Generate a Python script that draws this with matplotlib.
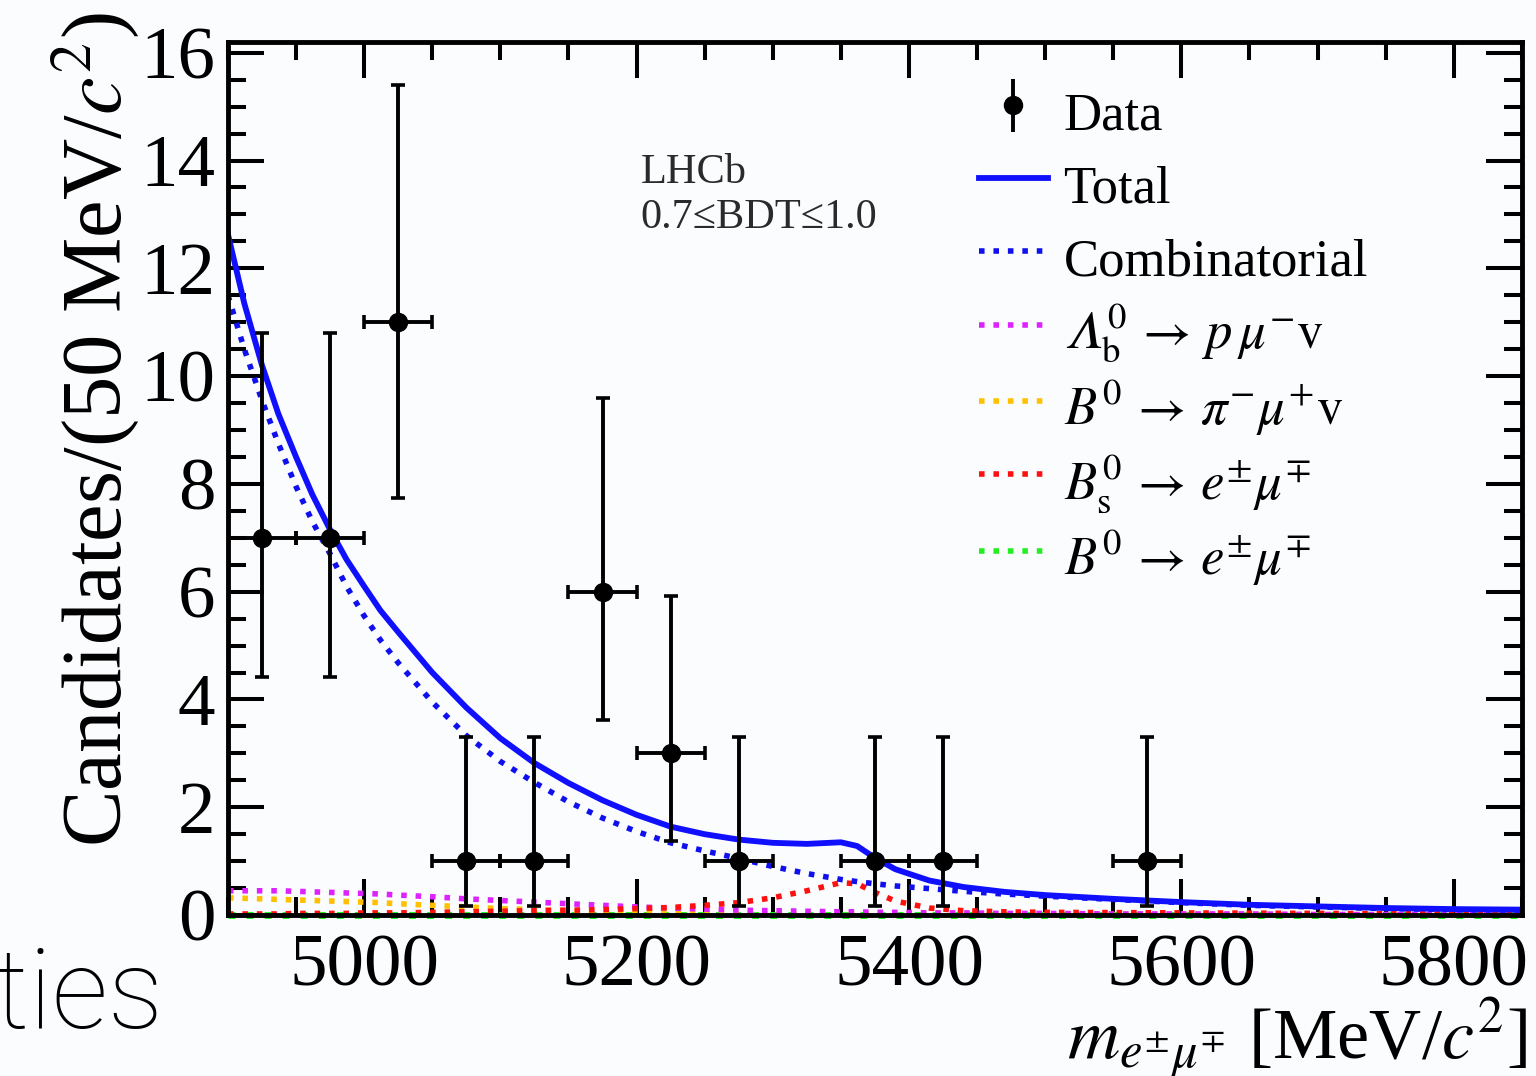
import numpy as np
import matplotlib
matplotlib.use("Agg")
import matplotlib.pyplot as plt
from matplotlib.ticker import MultipleLocator

# data points (bin centres, 50 MeV bins) with Poisson intervals
centers = [4925, 4975, 5025, 5075, 5125, 5175, 5225, 5275, 5375, 5425, 5575]
counts = [7, 7, 11, 1, 1, 6, 3, 1, 1, 1, 1]
err_low = [4.42, 4.42, 7.74, 0.17, 0.17, 3.62, 1.37, 0.17, 0.17, 0.17, 0.17]
err_high = [10.8, 10.8, 15.4, 3.3, 3.3, 9.6, 5.92, 3.3, 3.3, 3.3, 3.3]
half_bin = 25

# fit curves
mass = [4900, 4912, 4925, 4937, 4950, 4962, 4975, 4987, 5000, 5012, 5025,
        5050, 5075, 5100, 5125, 5150, 5175, 5200, 5225, 5250, 5275, 5300,
        5325, 5350, 5362, 5375, 5390, 5415, 5440, 5470, 5500, 5550, 5600,
        5650, 5700, 5750, 5800, 5850]
total = [12.63, 11.35, 10.2, 9.3, 8.5, 7.8, 7.15, 6.6, 6.1, 5.65, 5.25,
         4.5, 3.85, 3.28, 2.82, 2.45, 2.13, 1.86, 1.64, 1.5, 1.4, 1.34,
         1.32, 1.35, 1.28, 1.06, 0.85, 0.64, 0.52, 0.43, 0.37, 0.3, 0.24,
         0.19, 0.16, 0.13, 0.11, 0.1]
combinatorial = [11.5, 10.5, 9.55, 8.75, 7.95, 7.3, 6.7, 6.1, 5.55, 5.1, 4.68,
                 3.95, 3.33, 2.85, 2.46, 2.1, 1.8, 1.55, 1.34, 1.19, 1.05, 0.9,
                 0.77, 0.66, 0.62, 0.58, 0.54, 0.49, 0.44, 0.39, 0.35, 0.29, 0.23,
                 0.18, 0.15, 0.12, 0.1, 0.09]
lambdab = [0.45, 0.45, 0.45, 0.45, 0.44, 0.43, 0.42, 0.41, 0.4, 0.39, 0.37,
           0.34, 0.3, 0.27, 0.24, 0.21, 0.18, 0.15, 0.13, 0.11, 0.09, 0.08,
           0.07, 0.06, 0.06, 0.05, 0.05, 0.04, 0.04, 0.03, 0.03, 0.02, 0.02,
           0.02, 0.01, 0.01, 0.01, 0.01]
b0pimunu = [0.32, 0.31, 0.3, 0.29, 0.28, 0.27, 0.26, 0.25, 0.24, 0.23, 0.21,
            0.18, 0.15, 0.12, 0.1, 0.08, 0.065, 0.05, 0.04, 0.035, 0.03, 0.025,
            0.02, 0.02, 0.02, 0.02, 0.02, 0.015, 0.015, 0.015, 0.01, 0.01, 0.01,
            0.01, 0.005, 0.005, 0.005, 0.005]
bsemu = [0.02, 0.02, 0.02, 0.02, 0.03, 0.03, 0.03, 0.03, 0.04, 0.04, 0.04,
         0.05, 0.06, 0.07, 0.08, 0.09, 0.1, 0.12, 0.14, 0.18, 0.23, 0.32,
         0.45, 0.6, 0.58, 0.42, 0.26, 0.13, 0.08, 0.06, 0.05, 0.045, 0.04,
         0.035, 0.03, 0.025, 0.02, 0.02]
b0emu = [0.0] * 38

plt.rcParams["font.family"] = ["Liberation Serif", "DejaVu Serif"]
plt.rcParams["mathtext.fontset"] = "stix"

BG = "#fafcfd"
fig = plt.figure(figsize=(15.36, 10.76), dpi=100, facecolor=BG)
ax = fig.add_axes([0.1484, 0.1496, 0.8424, 0.8114], facecolor=BG)

dot = (0, (1, 1.6))
ax.plot(mass, b0emu, color="#22ee22", lw=5, ls=dot, clip_on=False, zorder=2)
ax.plot(mass, b0pimunu, color="#ffc000", lw=4, ls=dot)
ax.plot(mass, lambdab, color="#dd22ff", lw=4, ls=dot)
ax.plot(mass, bsemu, color="#ff1010", lw=4, ls=dot)
ax.plot(mass, combinatorial, color="#1010ee", lw=4, ls=dot)
ax.plot(mass, total, color="#1010ff", lw=4.2)

c = np.array(counts, dtype=float)
yerr = [c - np.array(err_low), np.array(err_high) - c]
ax.errorbar(centers, counts, xerr=half_bin, yerr=yerr, fmt="o", color="black",
            ms=13, elinewidth=2.8, capsize=5, capthick=2.6, zorder=4)

# legend proxies
h_data = ax.errorbar([np.nan], [np.nan], yerr=[1], fmt="o", color="black",
                     ms=13, elinewidth=2.8, capsize=0)
h_tot, = ax.plot([], [], color="#1010ff", lw=4.2)
h_comb, = ax.plot([], [], color="#1010ee", lw=4, ls=dot)
h_lb, = ax.plot([], [], color="#dd22ff", lw=4, ls=dot)
h_pi, = ax.plot([], [], color="#ffc000", lw=4, ls=dot)
h_bs, = ax.plot([], [], color="#ff1010", lw=4, ls=dot)
h_b0, = ax.plot([], [], color="#22ee22", lw=4, ls=dot)
labels = ["Data", "Total", "Combinatorial",
          "$\U0001D6EC^0_{\\rm b} \\,\\rightarrow\\, p\\,\\mu^{-}\\mathrm{v}$",
          r"$B^0 \,\rightarrow\, \pi^{-}\mu^{+}\mathrm{v}$",
          r"$B^0_{\rm s} \,\rightarrow\, e^{\pm}\mu^{\mp}$",
          r"$B^0 \,\rightarrow\, e^{\pm}\mu^{\mp}$"]
ax.legend([h_data, h_tot, h_comb, h_lb, h_pi, h_bs, h_b0], labels,
          loc="upper left", bbox_to_anchor=(0.5805, 0.955), frameon=False,
          fontsize=38, handlelength=1.3, handletextpad=0.3, handleheight=1.4,
          labelspacing=0.23, borderaxespad=0, borderpad=0)

ax.text(0.319, 0.872, "LHCb\n0.7≤BDT≤1.0", transform=ax.transAxes,
        fontsize=30.5, color="#2a2a2a", va="top", ha="left", linespacing=1.2)

ax.set_xlim(4900, 5850)
ax.set_ylim(0, 16.2)
ax.xaxis.set_major_locator(MultipleLocator(200))
ax.xaxis.set_minor_locator(MultipleLocator(50))
ax.yaxis.set_major_locator(MultipleLocator(2))
ax.yaxis.set_minor_locator(MultipleLocator(0.5))
ax.tick_params(which="both", direction="in", top=True, right=True, width=2.9,
               labelsize=54)
ax.tick_params(which="major", length=26)
ax.tick_params(which="minor", length=13)
ax.tick_params(axis="x", pad=14)
ax.tick_params(axis="y", pad=9)
for s in ax.spines.values():
    s.set_linewidth(3.5)
    s.set_zorder(3)

fig.text(95 / 1536, 1 - 12 / 1076, r"Candidates/(50 MeV/$c^2$)", rotation=90,
         ha="center", va="top", fontsize=61)
fig.text(1527 / 1536, 1 - 1059 / 1076, r"$m_{e^{\pm}\mu^{\mp}}$ [MeV/$c^2$]",
         ha="right", va="baseline", fontsize=52)

fig.text(-0.004, 1 - 1028 / 1076, "ties", family=["Roboto", "Open Sans"],
         fontweight="light", fontsize=80, ha="left", va="baseline")

fig.savefig("out.png", dpi=100, facecolor=BG)
